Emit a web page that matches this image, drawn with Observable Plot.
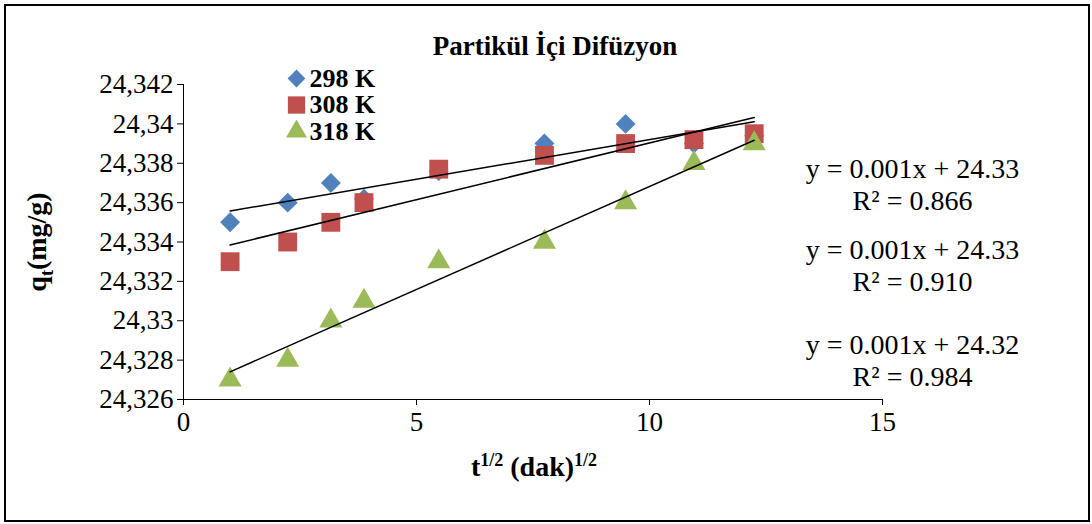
<!DOCTYPE html>
<html>
<head>
<meta charset="utf-8">
<script src="https://cdn.jsdelivr.net/npm/d3@7"></script>
<script src="https://cdn.jsdelivr.net/npm/@observablehq/plot@0.6"></script>
<style>
  body { margin: 0; background: white; }
  #chart svg { margin: 4px; border: 2px solid black; font-family: "Liberation Serif", serif; }
</style>
</head>
<body>
<div id="chart"></div>
<script>
// t^(1/2) values
const tx = [1, 2.236, 3.162, 3.873, 5.477, 7.746, 9.487, 10.954, 12.247]
const q298 = [24.335, 24.336, 24.337, 24.3362, 24.3376, 24.339, 24.340, 24.339, 24.3394]
const q308 = [24.333, 24.334, 24.335, 24.336, 24.3377, 24.3384, 24.339, 24.3392, 24.3395]
const q318 = [24.327, 24.328, 24.330, 24.331, 24.333, 24.334, 24.336, 24.338, 24.339]
const series = ["298 K", "308 K", "318 K"]
const colors = ["#4F81BD", "#C0504D", "#9BBB59"]
const symbols = ["diamond2", "square2", "triangle2"]
const sizes = [9, 12, 11]
const equations = [
  ["y = 0.001x + 24.33", "R² = 0.866"],
  ["y = 0.001x + 24.33", "R² = 0.910"],
  ["y = 0.001x + 24.32", "R² = 0.984"]
]

const data = []
;[q298, q308, q318].forEach((arr, i) => arr.forEach((v, j) => data.push({x: tx[j], y: v, s: series[i]})))

const fmt = d => String(+d.toFixed(3)).replace(".", ",")
const eqDy = [85, 166, 261]

const marks = [
  Plot.axisX({ticks: [0, 5, 10, 15], tickSize: 6, tickPadding: 6, label: null}),
  Plot.axisY({ticks: d3.range(24.326, 24.3425, 0.002), tickSize: 6, tickPadding: 4, tickFormat: fmt, label: null}),
  Plot.ruleX([0]),
  Plot.ruleY([24.326])
]
series.forEach((s, i) => {
  marks.push(Plot.dot(data.filter(d => d.s === s), {
    x: "x", y: "y", symbol: () => symbols[i], fill: colors[i], r: sizes[i]
  }))
})
marks.push(Plot.linearRegressionY(data, {x: "x", y: "y", z: "s", stroke: "black", strokeWidth: 1.5, ci: 0}))
series.forEach((s, i) => {
  marks.push(Plot.dot([0], {frameAnchor: "top-left", dx: 113, dy: -6 + i * 26.5, symbol: () => symbols[i], fill: colors[i], r: sizes[i] - 1}))
  marks.push(Plot.text([s], {frameAnchor: "top-left", dx: 126, dy: -6 + i * 26.5, textAnchor: "start", lineAnchor: "middle", fontSize: 26, fontWeight: "bold", text: d => d}))
})
equations.forEach((eq, i) => {
  eq.forEach((line, k) => {
    marks.push(Plot.text([line], {frameAnchor: "top-right", dx: 30, dy: eqDy[i] + k * 32, textAnchor: "middle", lineAnchor: "middle", fontSize: 28, text: d => d}))
  })
})
marks.push(Plot.text(["Partikül İçi Difüzyon"], {frameAnchor: "top", dx: 22, dy: -38, lineAnchor: "middle", fontSize: 27, fontWeight: "bold", text: d => d}))

const chart = Plot.plot({
  width: 1082,
  height: 514,
  marginLeft: 177,
  marginRight: 206,
  marginTop: 78,
  marginBottom: 121,
  x: {domain: [0, 15]},
  y: {domain: [24.326, 24.342]},
  style: {fontFamily: "Liberation Serif, serif", fontSize: 27, color: "black"},
  marks
})

const svg = d3.select(chart)

// axis titles with super/subscripts
svg.append("text").attr("x", 528).attr("y", 470).attr("text-anchor", "middle")
  .attr("font-size", 28).attr("font-weight", "bold")
  .call(t => {
    t.append("tspan").text("t")
    t.append("tspan").attr("font-size", 18).attr("dy", -10).text("1/2")
    t.append("tspan").attr("dy", 10).text(" (dak)")
    t.append("tspan").attr("font-size", 18).attr("dy", -10).text("1/2")
  })
svg.append("text").attr("transform", "translate(40,236) rotate(-90)").attr("text-anchor", "middle")
  .attr("font-size", 28).attr("font-weight", "bold")
  .call(t => {
    t.append("tspan").text("q")
    t.append("tspan").attr("font-size", 18).attr("dy", 7).text("t")
    t.append("tspan").attr("dy", -7).text("(mg/g)")
  })

d3.select("#chart").append(() => chart)
</script>
</body>
</html>
